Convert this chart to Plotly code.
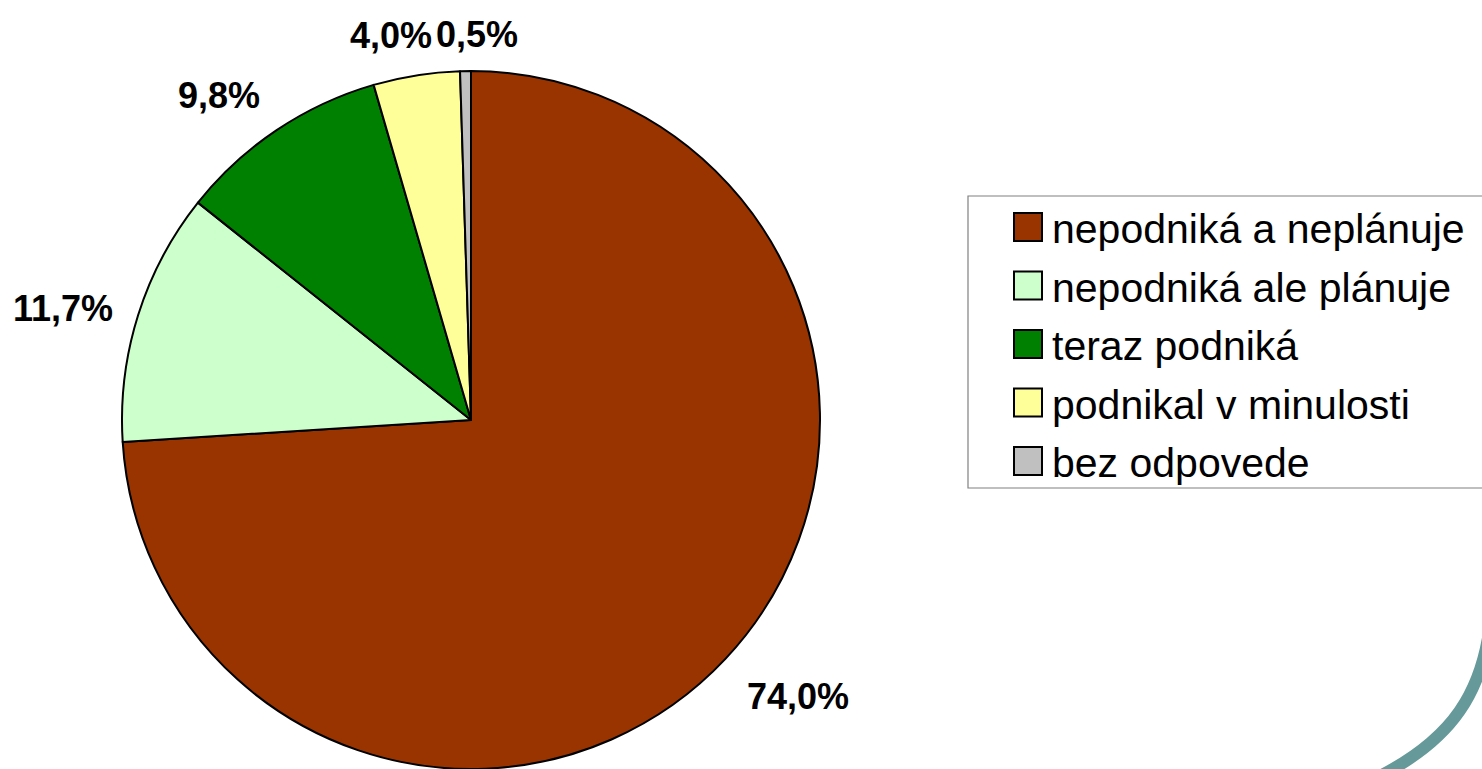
import plotly.graph_objects as go

# ---- data ----
categories = ["nepodniká a neplánuje", "nepodniká ale plánuje", "teraz podniká",
              "podnikal v minulosti", "bez odpovede"]
values = [74.0, 11.7, 9.8, 4.0, 0.5]
colors = ["#993300", "#CCFFCC", "#008000", "#FFFF99", "#C0C0C0"]
value_labels = [f"{v:.1f}".replace(".", ",") + "%" for v in values]

# ---- layout helpers (page pixel -> paper) ----
W, H = 1482, 769
def px(x):
    return x / W
def py(y):
    return 1 - y / H

label_pos = [(798, 696), (63, 308), (219, 96), (391, 36), (477, 34)]

# pie: centre (471, ~421) page px, radius ~350
cx, top = 471, 71
fig = go.Figure()
fig.add_trace(go.Pie(
    labels=categories,
    values=values,
    sort=False,
    direction="clockwise",
    rotation=0,
    marker=dict(colors=colors, line=dict(color="black", width=2)),
    textinfo="none",
    hoverinfo="label+percent",
    showlegend=False,
    domain=dict(x=[px(cx - 365), px(cx + 365)], y=[0, py(top)]),
))

annotations = []
for txt, (x, y) in zip(value_labels, label_pos):
    annotations.append(dict(
        x=px(x), y=py(y), xref="paper", yref="paper", text=txt, showarrow=False,
        xanchor="center", yanchor="middle",
        font=dict(family="Liberation Sans, Arial", size=36, color="black", weight="bold"),
    ))

shapes = []
# legend frame
shapes.append(dict(type="rect", xref="paper", yref="paper",
                   x0=px(968), x1=px(1520), y0=py(488), y1=py(196),
                   line=dict(color="#808080", width=1.2), fillcolor="white", layer="below"))
row0, step = 227, 58.5
for i, (cat, col) in enumerate(zip(categories, colors)):
    ry = row0 + i * step
    shapes.append(dict(type="rect", xref="paper", yref="paper",
                       x0=px(1014), x1=px(1042), y0=py(ry + 14), y1=py(ry - 14),
                       line=dict(color="black", width=2), fillcolor=col))
    annotations.append(dict(
        x=px(1050), y=py(ry + 2), xref="paper", yref="paper", text=cat, showarrow=False,
        xanchor="left", yanchor="middle",
        font=dict(family="Liberation Sans, Arial", size=41, color="black"),
    ))

# decorative teal arc (slide template)
def P(x, y):
    return f"{px(x):.5f},{py(y):.5f}"
path = "M " + P(1492, 600) + " C " + P(1488, 695) + " " + P(1448, 742) + " " + P(1376, 778)
shapes.append(dict(type="path", xref="paper", yref="paper", path=path,
                   line=dict(color="#669999", width=12)))

fig.update_layout(
    width=W, height=H,
    margin=dict(l=0, r=0, t=0, b=0),
    paper_bgcolor="white", plot_bgcolor="white",
    annotations=annotations, shapes=shapes,
)

fig.write_html("out.html", config={"displayModeBar": False},
               post_script="document.body.style.margin='0';document.body.style.overflow='hidden';")
